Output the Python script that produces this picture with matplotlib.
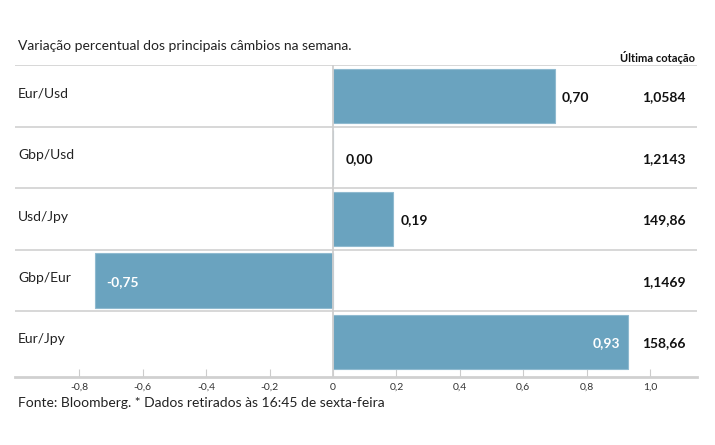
import matplotlib
matplotlib.use("Agg")
import matplotlib.pyplot as plt
from matplotlib.transforms import blended_transform_factory, offset_copy

pairs = ["Eur/Usd", "Gbp/Usd", "Usd/Jpy", "Gbp/Eur", "Eur/Jpy"]
variation = [0.70, 0.00, 0.19, -0.75, 0.93]
labels = ["0,70", "0,00", "0,19", "-0,75", "0,93"]
quotes = ["1,0584", "1,2143", "149,86", "1,1469", "158,66"]
xticks = [-0.8, -0.6, -0.4, -0.2, 0, 0.2, 0.4, 0.6, 0.8, 1.0]
xticklabels = ["-0,8", "-0,6", "-0,4", "-0,2", "0", "0,2", "0,4", "0,6", "0,8", "1,0"]
inside = [False, False, False, True, True]

plt.rcParams['font.family'] = ['Lato', 'DejaVu Sans']

W, H = 715, 445
fig = plt.figure(figsize=(W / 100, H / 100), dpi=100)
ax = fig.add_axes([15 / W, 1 - 377 / H, (697 - 15) / W, (377 - 65.25) / H])

bar_color = '#6aa3bf'
ypos = list(range(len(pairs)))
ax.barh(ypos, variation, height=0.88, color=bar_color, edgecolor='#8fbad0', linewidth=0.8, zorder=2)

ax.set_xlim(-1.003, 1.148)
ax.set_ylim(4.57, -0.5)

# row separators
for i in range(len(pairs)):
    ax.axhline(i - 0.5, color='#d4d4d4', lw=1.3, zorder=1)
ax.axvline(0, color='#cfcfcf', lw=1.3, zorder=3)

for s in ['top', 'right', 'left']:
    ax.spines[s].set_visible(False)
ax.spines['bottom'].set_color('#d0d0d0')
ax.spines['bottom'].set_linewidth(2)

ax.set_yticks([])
ax.set_xticks(xticks)
ax.set_xticklabels(xticklabels, fontsize=7.5, color='#333333')
ax.tick_params(axis='x', direction='in', length=6, width=0.8, color='#cccccc', pad=4)

trans_axes_y = blended_transform_factory(fig.transFigure, ax.transData)
for i, (p, v, lab, q, ins) in enumerate(zip(pairs, variation, labels, quotes, inside)):
    ax.text(18 / W, i - 0.04, p, transform=trans_axes_y, fontsize=10, color='#222222',
            va='center', ha='left')
    ax.text(686 / W, i + 0.02, q, transform=trans_axes_y, fontsize=10, color='#111111',
            va='center', ha='right', fontweight='bold')
    if ins:
        if v < 0:
            tr = offset_copy(ax.transData, fig=fig, x=11, y=0, units='dots')
            ax.text(v, i + 0.02, lab, transform=tr, fontsize=10, color='white',
                    va='center', ha='left', fontweight='bold', zorder=4)
        else:
            tr = offset_copy(ax.transData, fig=fig, x=-8, y=0, units='dots')
            ax.text(v, i + 0.02, lab, transform=tr, fontsize=10, color='white',
                    va='center', ha='right', fontweight='bold', zorder=4)
    else:
        off = 13 if v == 0 else 7
        tr = offset_copy(ax.transData, fig=fig, x=off, y=0, units='dots')
        ax.text(v, i + 0.02, lab, transform=tr, fontsize=10, color='#111111',
                va='center', ha='left', fontweight='bold', zorder=4)

fig.text(18 / W, 1 - 46 / H, "Variação percentual dos principais câmbios na semana.",
         fontsize=10, color='#222222', va='center', ha='left')
fig.text(695 / W, 1 - 57 / H, "Última cotação", fontsize=8, fontweight='bold',
         color='#111111', va='center', ha='right')
fig.text(18 / W, 1 - 403 / H, "Fonte: Bloomberg. * Dados retirados às 16:45 de sexta-feira",
         fontsize=10, color='#222222', va='center', ha='left')

fig.savefig("out.png", dpi=100)
